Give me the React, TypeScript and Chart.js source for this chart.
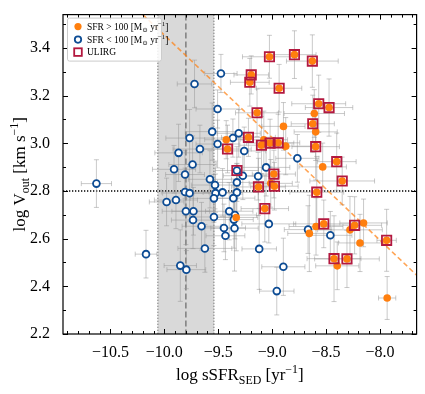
import { useEffect, useRef } from 'react';
import { Chart, registerables } from 'chart.js';
Chart.register(...registerables);

const FONT = "'Liberation Serif', 'Times New Roman', 'DejaVu Serif', serif";

// ---- axis ----
const xRange = [-10.94, -7.66];
const yRange = [2.2, 3.54];
const xTickValues = [-10.5, -10.0, -9.5, -9.0, -8.5, -8.0];
const xTickLabels = ['\u221210.5', '\u221210.0', '\u22129.5', '\u22129.0', '\u22128.5', '\u22128.0'];
const yTickValues = [2.2, 2.4, 2.6, 2.8, 3.0, 3.2, 3.4];
const yTickLabels = ['2.2', '2.4', '2.6', '2.8', '3.0', '3.2', '3.4'];
const xTitle = 'log sSFR_{SED} [yr^{\u22121}]';
const yTitle = 'log V_{out} [km s^{\u22121}]';

// ---- reference lines ----
const bandRange = [-10.06, -9.54];
const bandMedian = -9.8;
const vThreshold = 2.8;
const fitX = [-10.2, -7.66];
const fitY = [3.54, 2.447];

// ---- SFR > 100 (orange) ----
const hiX = [-9.426, -9.414, -9.333, -9.127, -8.979, -8.586, -9.068, -8.521, -8.593, -8.655, -8.235, -8.278, -8.152, -8.185, -7.938, -8.426, -8.396, -8.306, -7.933, -9.025, -8.793, -8.627, -9.194, -9.207, -8.935, -8.568, -8.472, -9.14, -8.623, -9.22, -9.099, -9.019, -8.944, -8.596, -8.984, -8.401, -8.35, -9.077, -8.895, -8.874, -8.609, -8.596, -8.531, -9.013];
const hiY = [3.015, 2.976, 2.689, 2.817, 2.82, 2.795, 2.726, 2.662, 2.651, 2.622, 2.656, 2.637, 2.666, 2.582, 2.593, 2.516, 2.486, 2.515, 2.351, 3.363, 3.372, 3.345, 3.287, 3.256, 3.231, 3.166, 3.15, 3.128, 3.082, 3.025, 2.992, 3.001, 3.002, 2.986, 2.871, 2.923, 2.842, 3.015, 3.071, 2.988, 3.125, 3.048, 2.901, 2.832];
const hiXErr = [0.2, 0.22, 0.2, 0.25, 0.22, 0.25, 0.22, 0.28, 0.25, 0.2, 0.25, 0.3, 0.22, 0.2, 0.09, 0.25, 0.2, 0.3, 0.08, 0.25, 0.2, 0.24, 0.16, 0.18, 0.21, 0.25, 0.22, 0.2, 0.2, 0.25, 0.2, 0.22, 0.2, 0.22, 0.2, 0.18, 0.3, 0.22, 0.2, 0.25, 0.28, 0.2, 0.22, 0.2];
const hiYErr = [0.08, 0.1, 0.14, 0.12, 0.1, 0.15, 0.14, 0.1, 0.12, 0.16, 0.12, 0.14, 0.1, 0.12, 0.13, 0.18, 0.1, 0.12, 0.09, 0.09, 0.1, 0.11, 0.08, 0.1, 0.1, 0.12, 0.12, 0.1, 0.12, 0.08, 0.12, 0.1, 0.12, 0.14, 0.1, 0.12, 0.1, 0.12, 0.1, 0.12, 0.1, 0.12, 0.1, 0.1];
const hiUlirg = [0, 1, 0, 1, 1, 1, 1, 1, 0, 0, 1, 0, 0, 0, 1, 1, 0, 1, 0, 1, 1, 1, 1, 1, 1, 1, 1, 1, 1, 1, 1, 1, 1, 1, 1, 1, 1, 0, 0, 0, 0, 0, 0, 0];

// ---- SFR < 100 (blue) ----
const loX = [-10.63, -9.475, -9.72, -9.506, -9.556, -9.766, -9.506, -9.364, -9.31, -9.67, -9.868, -9.91, -9.738, -9.808, -9.577, -9.53, -9.327, -9.327, -9.808, -9.766, -9.525, -9.46, -9.327, -9.979, -9.892, -9.54, -9.36, -9.8, -9.73, -9.398, -9.734, -9.655, -9.54, -9.345, -9.355, -9.447, -9.349, -9.433, -9.624, -10.17, -9.852, -9.796, -9.031, -9.12, -8.667, -8.46, -8.896, -8.957, -9.259, -8.766, -9.056, -9.13, -9.272];
const loY = [2.831, 3.293, 3.249, 3.144, 3.049, 3.022, 2.997, 3.022, 3.042, 2.976, 2.96, 2.891, 2.911, 2.869, 2.849, 2.825, 2.886, 2.836, 2.796, 2.791, 2.791, 2.794, 2.794, 2.754, 2.762, 2.769, 2.77, 2.715, 2.715, 2.715, 2.678, 2.652, 2.691, 2.699, 2.68, 2.645, 2.644, 2.612, 2.559, 2.535, 2.487, 2.47, 2.662, 2.557, 2.638, 2.614, 2.482, 2.38, 2.968, 2.937, 2.899, 2.862, 2.864];
const loXErr = [0.14, 0.15, 0.16, 0.2, 0.25, 0.22, 0.2, 0.18, 0.2, 0.25, 0.22, 0.2, 0.22, 0.18, 0.2, 0.22, 0.2, 0.18, 0.22, 0.25, 0.2, 0.18, 0.2, 0.16, 0.2, 0.22, 0.2, 0.22, 0.2, 0.22, 0.2, 0.18, 0.22, 0.2, 0.18, 0.2, 0.22, 0.18, 0.25, 0.1, 0.15, 0.18, 0.25, 0.16, 0.22, 0.2, 0.2, 0.16, 0.2, 0.2, 0.22, 0.2, 0.18];
const loYErr = [0.1, 0.08, 0.1, 0.08, 0.12, 0.12, 0.1, 0.08, 0.1, 0.1, 0.12, 0.1, 0.12, 0.1, 0.12, 0.1, 0.1, 0.08, 0.1, 0.12, 0.08, 0.1, 0.12, 0.1, 0.12, 0.1, 0.08, 0.14, 0.1, 0.12, 0.12, 0.1, 0.12, 0.1, 0.12, 0.1, 0.18, 0.1, 0.1, 0.1, 0.15, 0.08, 0.08, 0.17, 0.1, 0.1, 0.12, 0.1, 0.1, 0.1, 0.12, 0.1, 0.1];
const loUlirg = [0, 0, 0, 0, 0, 0, 0, 0, 0, 0, 0, 0, 0, 0, 0, 0, 1, 0, 0, 0, 0, 0, 0, 0, 0, 0, 0, 0, 0, 0, 0, 0, 0, 0, 0, 0, 0, 0, 0, 0, 0, 0, 0, 0, 0, 0, 0, 0, 0, 0, 0, 0, 0];

// ---- legend ----
const legendLabels = ['SFR > 100 [M_{\u2299} yr^{\u22121}]', 'SFR < 100 [M_{\u2299} yr^{\u22121}]', 'ULIRG'];

const ORANGE = '#ff7f0e';
const BLUE = '#0d4c94';
const RED = '#b3183f';

type Part = { t: string; m: 'n' | 'sub' | 'sup' };
function parseRich(s: string): Part[] {
  const parts: Part[] = [];
  const re = /([_^])\{([^}]*)\}/g;
  let last = 0;
  let mt: RegExpExecArray | null;
  while ((mt = re.exec(s))) {
    if (mt.index > last) parts.push({ t: s.slice(last, mt.index), m: 'n' });
    parts.push({ t: mt[2], m: mt[1] === '_' ? 'sub' : 'sup' });
    last = mt.index + mt[0].length;
  }
  if (last < s.length) parts.push({ t: s.slice(last), m: 'n' });
  return parts;
}
function richWidth(ctx: CanvasRenderingContext2D, parts: Part[], size: number) {
  let w = 0;
  for (const p of parts) {
    ctx.font = `${p.m === 'n' ? size : size * 0.7}px ${FONT}`;
    w += ctx.measureText(p.t).width;
  }
  return w;
}
function drawRich(ctx: CanvasRenderingContext2D, s: string, x: number, y: number, size: number, align: 'left' | 'center') {
  const parts = parseRich(s);
  let cx = align === 'center' ? x - richWidth(ctx, parts, size) / 2 : x;
  ctx.textAlign = 'left';
  ctx.textBaseline = 'alphabetic';
  for (const p of parts) {
    const sz = p.m === 'n' ? size : size * 0.7;
    ctx.font = `${sz}px ${FONT}`;
    const dy = p.m === 'sub' ? size * 0.22 : p.m === 'sup' ? -size * 0.42 : 0;
    ctx.fillText(p.t, cx, y + dy);
    cx += ctx.measureText(p.t).width;
  }
}

const overlay = {
  id: 'overlay',
  beforeDatasetsDraw(chart: any) {
    const { ctx, chartArea: a, scales } = chart;
    const x = scales.x, y = scales.y;
    ctx.save();
    ctx.beginPath();
    ctx.rect(a.left, a.top, a.right - a.left, a.bottom - a.top);
    ctx.clip();
    const b0 = x.getPixelForValue(bandRange[0]);
    const b1 = x.getPixelForValue(bandRange[1]);
    ctx.fillStyle = 'rgba(150,150,150,0.36)';
    ctx.fillRect(b0, a.top, b1 - b0, a.bottom - a.top);
    ctx.lineWidth = 1;
    ctx.strokeStyle = '#777';
    ctx.setLineDash([1.5, 1.5]);
    for (const bx of [b0, b1]) {
      ctx.beginPath(); ctx.moveTo(bx, a.top); ctx.lineTo(bx, a.bottom); ctx.stroke();
    }
    const mx = x.getPixelForValue(bandMedian);
    ctx.strokeStyle = '#666';
    ctx.lineWidth = 1.2;
    ctx.setLineDash([6, 3]);
    ctx.beginPath(); ctx.moveTo(mx, a.top); ctx.lineTo(mx, a.bottom); ctx.stroke();
    const hy = y.getPixelForValue(vThreshold);
    ctx.strokeStyle = '#000';
    ctx.lineWidth = 1.3;
    ctx.setLineDash([1.3, 1.7]);
    ctx.beginPath(); ctx.moveTo(a.left, hy); ctx.lineTo(a.right, hy); ctx.stroke();
    ctx.setLineDash([]);
    // error bars
    ctx.strokeStyle = 'rgba(150,150,150,0.5)';
    ctx.lineWidth = 1;
    const cap = 2.5;
    const drawErr = (xs: number[], ys: number[], xe: number[], ye: number[]) => {
      for (let i = 0; i < xs.length; i++) {
        const px = x.getPixelForValue(xs[i]);
        const py = y.getPixelForValue(ys[i]);
        const xl = x.getPixelForValue(xs[i] - xe[i]);
        const xr = x.getPixelForValue(xs[i] + xe[i]);
        const yt = y.getPixelForValue(ys[i] + ye[i]);
        const yb = y.getPixelForValue(ys[i] - ye[i]);
        ctx.beginPath();
        ctx.moveTo(xl, py); ctx.lineTo(xr, py);
        ctx.moveTo(px, yt); ctx.lineTo(px, yb);
        ctx.moveTo(xl, py - cap); ctx.lineTo(xl, py + cap);
        ctx.moveTo(xr, py - cap); ctx.lineTo(xr, py + cap);
        ctx.moveTo(px - cap, yt); ctx.lineTo(px + cap, yt);
        ctx.moveTo(px - cap, yb); ctx.lineTo(px + cap, yb);
        ctx.stroke();
      }
    };
    drawErr(loX, loY, loXErr, loYErr);
    drawErr(hiX, hiY, hiXErr, hiYErr);
    ctx.restore();
  },
  afterDraw(chart: any) {
    const { ctx, chartArea: a, scales } = chart;
    const x = scales.x, y = scales.y;
    ctx.save();
    // frame
    ctx.strokeStyle = '#000';
    ctx.lineWidth = 1.2;
    ctx.strokeRect(a.left, a.top, a.right - a.left, a.bottom - a.top);
    ctx.lineWidth = 1;
    for (let k = Math.ceil(xRange[0] * 10 - 1e-6); k <= Math.floor(xRange[1] * 10 + 1e-6); k++) {
      const v = k / 10;
      const major = Math.abs(k % 5) === 0;
      const L = major ? 5 : 3;
      const px = Math.round(x.getPixelForValue(v)) + 0.5;
      ctx.beginPath();
      ctx.moveTo(px, a.bottom); ctx.lineTo(px, a.bottom - L);
      ctx.moveTo(px, a.top); ctx.lineTo(px, a.top + L);
      ctx.stroke();
    }
    for (let k = Math.ceil(yRange[0] * 10 - 1e-6); k <= Math.floor(yRange[1] * 10 + 1e-6); k++) {
      const v = k / 10;
      const major = k % 2 === 0;
      const L = major ? 5 : 3;
      const py = Math.round(y.getPixelForValue(v)) + 0.5;
      ctx.beginPath();
      ctx.moveTo(a.left, py); ctx.lineTo(a.left + L, py);
      ctx.moveTo(a.right, py); ctx.lineTo(a.right - L, py);
      ctx.stroke();
    }
    // legend
    const lx = a.left + 4, ly = a.top + 3, lw = 94, lh = 43;
    ctx.fillStyle = 'rgba(255,255,255,0.85)';
    ctx.strokeStyle = '#cccccc';
    ctx.lineWidth = 1;
    ctx.beginPath();
    (ctx as any).roundRect(lx + 0.5, ly + 0.5, lw, lh, 2);
    ctx.fill();
    ctx.stroke();
    const rows = [ly + 9, ly + 22, ly + 34.5];
    const mx = lx + 11;
    ctx.fillStyle = ORANGE;
    ctx.beginPath(); ctx.arc(mx, rows[0], 3.6, 0, Math.PI * 2); ctx.fill();
    ctx.fillStyle = '#fff';
    ctx.strokeStyle = BLUE;
    ctx.lineWidth = 1.8;
    ctx.beginPath(); ctx.arc(mx, rows[1], 3.2, 0, Math.PI * 2); ctx.fill(); ctx.stroke();
    ctx.strokeStyle = RED;
    ctx.strokeRect(mx - 3.8, rows[2] - 3.8, 7.6, 7.6);
    ctx.fillStyle = '#000';
    for (let i = 0; i < legendLabels.length; i++) {
      drawRich(ctx, legendLabels[i], lx + 20, rows[i] + 3, 9.5, 'left');
    }
    // axis titles
    drawRich(ctx, xTitle, (a.left + a.right) / 2, 380, 17, 'center');
    ctx.translate(19, (a.top + a.bottom) / 2);
    ctx.rotate(-Math.PI / 2);
    drawRich(ctx, yTitle, 0, 6, 17, 'center');
    ctx.restore();
  },
};

export default function App() {
  const ref = useRef<HTMLCanvasElement>(null);
  useEffect(() => {
    document.body.style.margin = '0';
    const hiPts = hiX.map((v, i) => ({ x: v, y: hiY[i] }));
    const loPts = loX.map((v, i) => ({ x: v, y: loY[i] }));
    const ulPts = [
      ...hiPts.filter((_, i) => hiUlirg[i] === 1),
      ...loPts.filter((_, i) => loUlirg[i] === 1),
    ];
    const chart = new Chart(ref.current!, {
      type: 'scatter',
      data: {
        datasets: [
          {
            type: 'line' as any,
            label: 'fit',
            data: fitX.map((v, i) => ({ x: v, y: fitY[i] })),
            borderColor: 'rgba(255,127,14,0.7)',
            borderDash: [5, 3],
            borderWidth: 1.6,
            pointRadius: 0,
            fill: false,
            order: 4,
          } as any,
          {
            label: 'SFR < 100',
            data: loPts,
            pointStyle: 'circle',
            pointRadius: 3.4,
            backgroundColor: '#ffffff',
            borderColor: BLUE,
            borderWidth: 1.8,
            order: 3,
          },
          {
            label: 'SFR > 100',
            data: hiPts,
            pointStyle: 'circle',
            pointRadius: 3.8,
            backgroundColor: ORANGE,
            borderColor: ORANGE,
            borderWidth: 0,
            order: 2,
          },
          {
            label: 'ULIRG',
            data: ulPts,
            pointStyle: 'rect',
            pointRadius: 6.6,
            backgroundColor: 'rgba(0,0,0,0)',
            borderColor: RED,
            borderWidth: 1.8,
            order: 1,
          },
        ],
      },
      options: {
        animation: false,
        responsive: false,
        events: [],
        layout: { padding: { left: 8, right: 8, top: 9, bottom: 0 } },
        plugins: { legend: { display: false }, tooltip: { enabled: false } },
        scales: {
          x: {
            type: 'linear',
            min: xRange[0],
            max: xRange[1],
            grid: { display: false },
            border: { display: false },
            afterBuildTicks: (s: any) => { s.ticks = xTickValues.map((v) => ({ value: v })); },
            afterFit: (s: any) => { s.height = 60; },
            ticks: {
              color: '#000',
              padding: 1,
              maxRotation: 0,
              autoSkip: false,
              font: { family: FONT, size: 16 },
              callback: (_v: any, i: number) => xTickLabels[i],
            },
          },
          y: {
            type: 'linear',
            min: yRange[0],
            max: yRange[1],
            grid: { display: false },
            border: { display: false },
            afterBuildTicks: (s: any) => { s.ticks = yTickValues.map((v) => ({ value: v })); },
            afterFit: (s: any) => { s.width = 55; },
            ticks: {
              color: '#000',
              padding: 5,
              autoSkip: false,
              font: { family: FONT, size: 16 },
              callback: (_v: any, i: number) => yTickLabels[i],
            },
          },
        },
      },
      plugins: [overlay],
    });
    return () => chart.destroy();
  }, []);
  return (
    <div style={{ position: 'absolute', left: 0, top: 0, width: 425, height: 394 }}>
      <canvas ref={ref} width={425} height={394} style={{ display: 'block' }} />
    </div>
  );
}
